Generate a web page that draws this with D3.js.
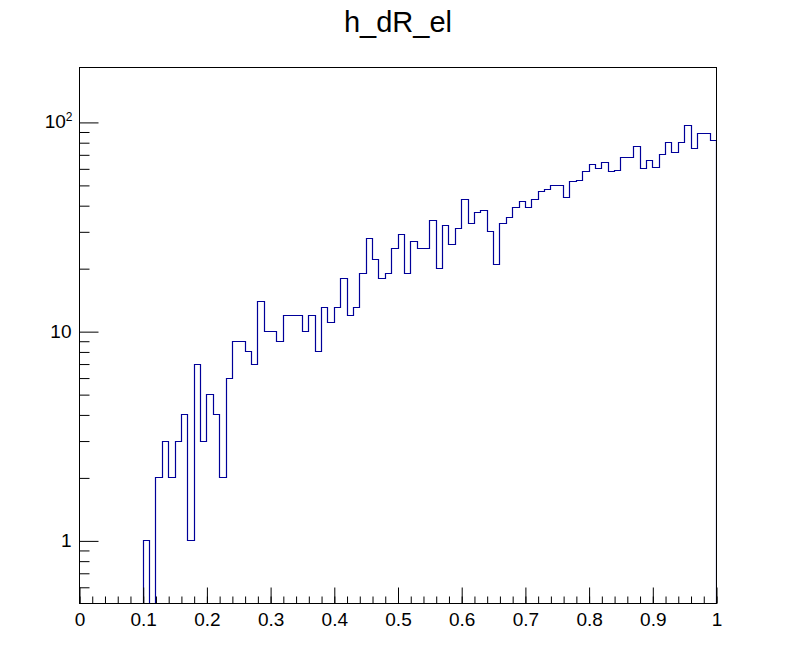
<!DOCTYPE html>
<html lang="en">
<head>
<meta charset="UTF-8">
<title>h_dR_el</title>
<style>
  body { margin: 0; background: #fff; }
  text { font-family: "Liberation Sans", Arial, sans-serif; }
</style>
</head>
<body>
<svg height="672" width="796"></svg>

<script src="https://d3js.org/d3.v7.min.js"></script>
<script>

  // bin edges: 100 bins from 0 to 1
  var binLow = 0, binHigh = 1, nBins = 100;

  // entries per bin
  var counts = [
    0, 0, 0, 0, 0, 0, 0, 0, 0, 0,
    1, 0, 2, 3, 2, 3, 4, 1, 7, 3,
    5, 4, 2, 6, 9, 9, 8, 7, 14, 10,
    10, 9, 12, 12, 12, 10, 12, 8, 13, 11,
    13, 18, 12, 13, 19, 28, 22, 18, 19, 25,
    29, 19, 27, 25, 25, 34, 20, 32, 26, 31,
    43, 33, 37, 38, 30, 21, 33, 35, 39, 42,
    39, 43, 47, 48, 50, 50, 44, 52, 53, 58,
    63, 60, 64, 58, 59, 68, 68, 77, 60, 66,
    61, 70, 80, 72, 80, 97, 75, 89, 89, 82
  ];

  var xMajor = [0, 0.1, 0.2, 0.3, 0.4, 0.5, 0.6, 0.7, 0.8, 0.9, 1];
  var xLabels = ["0", "0.1", "0.2", "0.3", "0.4", "0.5", "0.6", "0.7", "0.8", "0.9", "1"];
  var yMajor = [1, 10, 100];
  var yMinor = [0.6, 0.7, 0.8, 0.9, 2, 3, 4, 5, 6, 7, 8, 9, 20, 30, 40, 50, 60, 70, 80, 90];
  var yRange = [0.502, 183];

  var frame = {left: 79.5, right: 716.5, top: 67.5, bottom: 603.5};
  var lineColor = "#000099";
  var labelSize = "19px";

  var svg = d3.select("svg");

  var x = d3.scaleLinear().domain([binLow, binHigh]).range([frame.left, frame.right]);
  var y = d3.scaleLog().domain(yRange).range([frame.bottom, frame.top]);

  // snap to pixel centres so 1px lines stay sharp
  var px = function(v) { return Math.round(v - 0.5) + 0.5; };

  svg.append("rect")
    .attr("width", 796).attr("height", 672)
    .attr("fill", "#fff");

  svg.append("defs").append("clipPath").attr("id", "frameclip")
    .append("rect")
    .attr("x", frame.left).attr("y", frame.top)
    .attr("width", frame.right - frame.left)
    .attr("height", frame.bottom - frame.top);

  // histogram outline
  var binWidth = (binHigh - binLow) / nBins;
  var pts = [];
  counts.forEach(function(c, i) {
    var v = Math.max(c, yRange[0] * 0.5);
    pts.push([px(x(binLow + i * binWidth)), px(y(v))]);
    pts.push([px(x(binLow + (i + 1) * binWidth)), px(y(v))]);
  });
  pts.unshift([frame.left, frame.bottom + 5]);
  pts.push([frame.right, frame.bottom + 5]);

  svg.append("path")
    .attr("clip-path", "url(#frameclip)")
    .attr("d", d3.line()(pts))
    .attr("fill", "none")
    .attr("stroke", lineColor)
    .attr("stroke-width", 1.2);

  // x axis: minor then major ticks, drawn inward
  var xMinor = d3.range(0, 51).map(function(i) { return i * 0.02; });

  svg.append("g")
    .attr("transform", "translate(0," + frame.bottom + ")")
    .call(d3.axisBottom(x).tickValues(xMinor).tickSize(-7).tickSizeOuter(0).tickFormat(""))
    .call(function(g) { g.select(".domain").remove(); });

  var xAxis = svg.append("g")
    .attr("transform", "translate(0," + frame.bottom + ")")
    .call(d3.axisBottom(x).tickValues(xMajor).tickSize(-16).tickSizeOuter(0).tickPadding(9)
      .tickFormat(function(d, i) { return xLabels[i]; }));
  xAxis.select(".domain").remove();
  xAxis.selectAll("text")
    .style("font-size", labelSize)
    .attr("fill", "#000");

  // y axis
  svg.append("g")
    .attr("transform", "translate(" + frame.left + ",0)")
    .call(d3.axisLeft(y).tickValues(yMinor).tickSize(-10).tickSizeOuter(0).tickFormat(""))
    .call(function(g) { g.select(".domain").remove(); });

  var yAxis = svg.append("g")
    .attr("transform", "translate(" + frame.left + ",0)")
    .call(d3.axisLeft(y).tickValues(yMajor).tickSize(-19).tickSizeOuter(0).tickPadding(8)
      .tickFormat(function(d) { return d === 100 ? "" : String(d); }));
  yAxis.select(".domain").remove();
  yAxis.selectAll("text")
    .style("font-size", labelSize)
    .attr("fill", "#000");

  svg.selectAll(".tick line").attr("stroke", "#000");

  // 10^2 label with superscript
  var sup = svg.append("text")
    .attr("x", frame.left - 7)
    .attr("y", y(100))
    .attr("dy", "0.32em")
    .attr("text-anchor", "end")
    .style("font-size", labelSize)
    .attr("fill", "#000");
  sup.append("tspan").text("10");
  sup.append("tspan").style("font-size", "12px").attr("dy", "-0.6em").text("2");

  // frame
  svg.append("rect")
    .attr("x", frame.left).attr("y", frame.top)
    .attr("width", frame.right - frame.left)
    .attr("height", frame.bottom - frame.top)
    .attr("fill", "none")
    .attr("stroke", "#000")
    .attr("stroke-width", 1);

  // title
  svg.append("text")
    .attr("x", 398)
    .attr("y", 32)
    .attr("text-anchor", "middle")
    .style("font-size", "29px")
    .attr("fill", "#000")
    .text("h_dR_el");

</script>
</body>
</html>
